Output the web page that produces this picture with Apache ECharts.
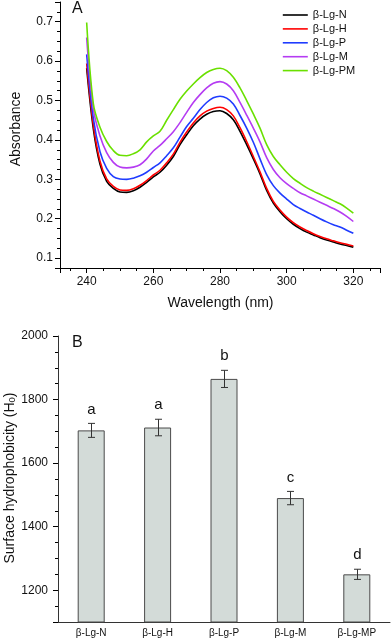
<!DOCTYPE html>
<html>
<head>
<meta charset="utf-8">
<script src="https://cdn.jsdelivr.net/npm/echarts@6/dist/echarts.min.js"></script>
<style>
html,body{margin:0;padding:0;background:#fff;}
#chart{width:392px;height:640px;}
</style>
</head>
<body>
<div id="chart"></div>
<script>
// ---------- Panel A data ----------
const wavelengths = [240,242,244,246,248,250,252,254,256,258,260,262,264,266,268,270,272,274,276,278,280,282,284,286,288,290,292,294,296,298,300,302,304,306,308,310,312,314,316,318,320];
const absN  = [0.582,0.428,0.338,0.295,0.277,0.268,0.267,0.271,0.280,0.292,0.306,0.318,0.336,0.358,0.388,0.413,0.436,0.453,0.465,0.472,0.474,0.467,0.451,0.422,0.388,0.352,0.314,0.272,0.240,0.218,0.200,0.186,0.175,0.166,0.159,0.152,0.146,0.141,0.136,0.132,0.128];
const absH  = [0.594,0.438,0.346,0.301,0.282,0.273,0.272,0.276,0.285,0.297,0.311,0.323,0.342,0.364,0.394,0.420,0.443,0.461,0.473,0.480,0.483,0.477,0.461,0.431,0.396,0.358,0.319,0.277,0.244,0.222,0.204,0.190,0.179,0.170,0.162,0.155,0.149,0.144,0.139,0.135,0.131];
const absP  = [0.617,0.455,0.370,0.328,0.307,0.301,0.300,0.303,0.309,0.318,0.330,0.342,0.360,0.380,0.407,0.434,0.455,0.477,0.495,0.507,0.511,0.506,0.491,0.462,0.430,0.394,0.352,0.312,0.284,0.265,0.250,0.236,0.226,0.217,0.209,0.200,0.192,0.185,0.179,0.171,0.163];
const absM  = [0.660,0.478,0.410,0.368,0.343,0.331,0.329,0.331,0.337,0.352,0.372,0.386,0.403,0.421,0.444,0.470,0.495,0.515,0.532,0.544,0.548,0.542,0.525,0.495,0.463,0.430,0.395,0.355,0.325,0.304,0.289,0.277,0.266,0.258,0.250,0.242,0.234,0.226,0.217,0.206,0.193];
const absPM = [0.698,0.492,0.432,0.396,0.373,0.361,0.360,0.365,0.375,0.395,0.410,0.422,0.450,0.477,0.503,0.524,0.542,0.558,0.571,0.579,0.582,0.576,0.559,0.532,0.500,0.466,0.430,0.388,0.358,0.337,0.318,0.302,0.290,0.279,0.270,0.262,0.254,0.246,0.238,0.227,0.214];
const seriesNamesA = ['β-Lg-N','β-Lg-H','β-Lg-P','β-Lg-M','β-Lg-PM'];

// ---------- Panel B data ----------
const samplesB = ['β-Lg-N','β-Lg-H','β-Lg-P','β-Lg-M','β-Lg-MP'];
const hydrophobicity = [1703,1712,1865,1490,1250];
const hydroError = [22,26,27,21,16];
const sigLetters = ['a','a','b','c','d'];

const FONT = '"Liberation Sans", Arial, Helvetica, sans-serif';
const colorsA = ['#000000','#ff0000','#1f3cff','#b53cf2','#6ae000'];
const valuesA = [absN, absH, absP, absM, absPM];

function pairs(xs, ys){ return xs.map((x,i)=>[x, ys[i]]); }

const chart = echarts.init(document.getElementById('chart'), null, {renderer:'canvas'});

const axisCommon = {
  axisLine:{show:true, lineStyle:{color:'#000', width:1}},
  axisTick:{show:true, inside:false, length:5, lineStyle:{color:'#000', width:1}},
  minorTick:{show:true, splitNumber:4, length:3, lineStyle:{color:'#000', width:1}},
  splitLine:{show:false},
  axisLabel:{color:'#111', fontSize:12, fontFamily:FONT}
};

const option = {
  animation:false,
  backgroundColor:'#fff',
  textStyle:{fontFamily:FONT},
  grid:[
    {left:60, top:2, width:320, height:266},
    {left:58, top:336, width:332, height:286}
  ],
  xAxis:[
    Object.assign({}, axisCommon, {
      type:'value', gridIndex:0, min:232, max:328, splitNumber:5,
      axisLabel:Object.assign({}, axisCommon.axisLabel, {margin:8, showMinLabel:false, showMaxLabel:false,
        formatter:v=> (v%20===0 ? String(v) : '')})
    }),
    {
      type:'category', gridIndex:1, data:samplesB, boundaryGap:true,
      axisLine:{show:true, lineStyle:{color:'#333', width:1}},
      axisTick:{show:false},
      axisLabel:{color:'#111', fontSize:10, fontFamily:FONT, margin:6}
    }
  ],
  yAxis:[
    Object.assign({}, axisCommon, {
      type:'value', gridIndex:0, min:0.075, max:0.75, splitNumber:6,
      axisLabel:Object.assign({}, axisCommon.axisLabel, {margin:7, showMinLabel:false, showMaxLabel:false,
        formatter:v=>{ const r=Math.round(v*10)/10; return Math.abs(r-v)<1e-6 ? r.toFixed(1) : ''; }})
    }),
    Object.assign({}, axisCommon, {
      type:'value', gridIndex:1, min:1100, max:2000, splitNumber:5,
      axisLine:{show:true, lineStyle:{color:'#333', width:1}},
      axisLabel:Object.assign({}, axisCommon.axisLabel, {margin:10, showMinLabel:false,
        formatter:v=> (v%200===0 ? String(v) : '')})
    })
  ],
  legend:{
    show:true, orient:'vertical', left:282, top:9, padding:0,
    itemWidth:25, itemHeight:12, itemGap:1.9,
    data:seriesNamesA,
    itemStyle:{opacity:0},
    lineStyle:{width:1.6},
    textStyle:{fontSize:11, color:'#111', fontFamily:FONT, lineHeight:12},
    selectedMode:false
  },
  series:[
    ...seriesNamesA.map((name,k)=>({
      name:name, type:'line', xAxisIndex:0, yAxisIndex:0,
      data:pairs(wavelengths, valuesA[k]),
      smooth:0.35, symbol:'none', showSymbol:false,
      lineStyle:{color:colorsA[k], width:1.6},
      itemStyle:{color:colorsA[k]},
      z:2+k
    })),
    {
      name:'H0', type:'bar', xAxisIndex:1, yAxisIndex:1,
      data:hydrophobicity, barWidth:27,
      itemStyle:{color:'#d3dbd8', borderColor:'#4a4a4a', borderWidth:1},
      z:2
    },
    {
      name:'err', type:'custom', xAxisIndex:1, yAxisIndex:1,
      data:samplesB.map((c,i)=>[i, hydrophobicity[i], hydroError[i]]),
      encode:{x:0, y:1},
      z:5,
      renderItem:function(params, api){
        const i = api.value(0), m = api.value(1), e = api.value(2);
        const top = api.coord([i, m+e]);
        const bot = api.coord([i, m-e]);
        const x = Math.round(top[0]) + 0.5;
        const cap = 3.5;
        const st = {stroke:'#333', lineWidth:1};
        return {type:'group', children:[
          {type:'line', shape:{x1:x, y1:top[1], x2:x, y2:bot[1]}, style:st},
          {type:'line', shape:{x1:x-cap, y1:top[1], x2:x+cap, y2:top[1]}, style:st},
          {type:'line', shape:{x1:x-cap, y1:bot[1], x2:x+cap, y2:bot[1]}, style:st},
          {type:'text', x:x, y:top[1]-14, style:{text:sigLetters[params.dataIndex], fontSize:15, fontFamily:FONT, fill:'#111', align:'center', verticalAlign:'middle'}}
        ]};
      }
    }
  ],
  graphic:[
    {type:'text', x:72, y:9, style:{text:'A', fontSize:16, fontFamily:FONT, fill:'#111', align:'left', verticalAlign:'middle'}},
    {type:'text', x:72, y:343, style:{text:'B', fontSize:16, fontFamily:FONT, fill:'#111', align:'left', verticalAlign:'middle'}},
    {type:'text', x:16, y:129, rotation:Math.PI/2, style:{text:'Absorbance', fontSize:14, fontFamily:FONT, fill:'#111', align:'center', verticalAlign:'middle'}},
    {type:'text', x:220.5, y:303, style:{text:'Wavelength (nm)', fontSize:14, fontFamily:FONT, fill:'#111', align:'center', verticalAlign:'middle'}},
    {type:'text', x:9, y:478, rotation:Math.PI/2, style:{
      text:'{m|Surface hydrophobicity (H}{s|0}{m|)}', align:'center', verticalAlign:'middle', fill:'#111',
      rich:{m:{fontSize:14, fontFamily:FONT, fill:'#111', lineHeight:16, verticalAlign:'bottom'},
            s:{fontSize:9.5, fontFamily:FONT, fill:'#111', lineHeight:12, verticalAlign:'bottom', padding:[0,0,0,0]}}
    }}
  ]
};
chart.setOption(option);
</script>
</body>
</html>
